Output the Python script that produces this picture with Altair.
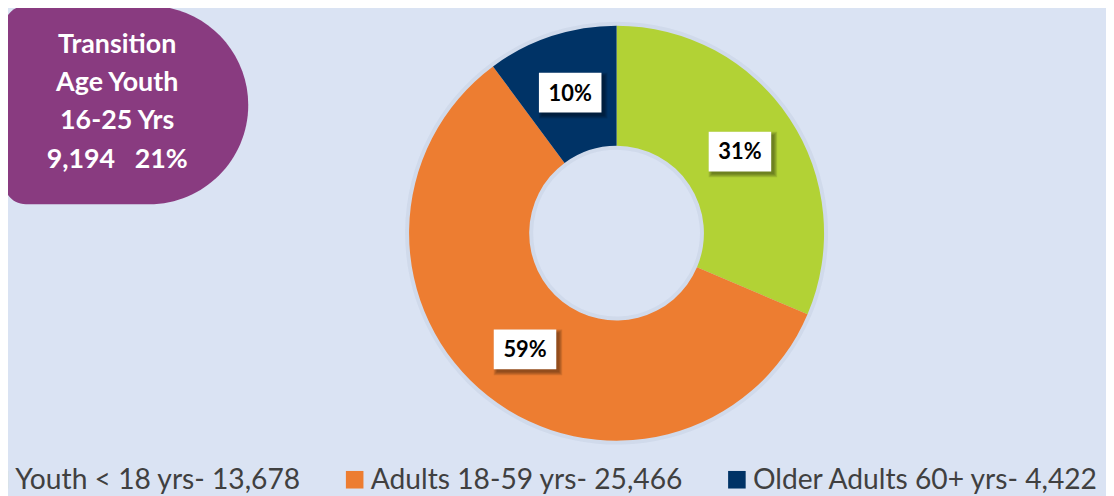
import altair as alt
import pandas as pd

# ---- data ----
categories = ["Youth < 18 yrs", "Adults 18-59 yrs", "Older Adults 60+ yrs"]
counts = [13678, 25466, 4422]
pct_labels = ["31%", "59%", "10%"]
colors = ["#B2D235", "#ED7D31", "#003366"]
tay_lines = ["Transition", "Age Youth", "16-25 Yrs", "9,194\u00a0\u00a0\u00a021%"]

legend_labels = [f"{c}- {n:,}" for c, n in zip(categories, counts)]
df = pd.DataFrame({
    "category": categories,
    "count": counts,
    "pct": pct_labels,
    "legend": legend_labels,
    "order": list(range(len(categories))),
})

# ---- layout (chart px; page has 8px margin) ----
W, H = 1106, 488
CX, CY = 613, 225
R_OUT, R_IN, R_LAB = 209, 88, 149
BOX_W, BOX_H = 63, 40
FONT = "Lato"

base = alt.Chart(df)

color = alt.Color(
    "legend:N",
    scale=alt.Scale(domain=legend_labels, range=colors),
    sort=legend_labels,
    legend=alt.Legend(
        orient="none", legendX=-23, legendY=459, direction="horizontal",
        title=None, symbolType="square", symbolSize=313, symbolStrokeWidth=0,
        symbolOpacity=1, labelFont=FONT, labelFontSize=28.4, labelColor="#404040",
        labelLimit=800, labelOffset=2, columnPadding=40, padding=0,
    ),
)

halo = base.mark_arc(outerRadius=R_OUT + 4, innerRadius=R_IN - 4,
                     color="#1F3864", opacity=0.05).encode(
    theta=alt.Theta("count:Q"),
    order=alt.Order("order:Q"),
    x=alt.value(CX),
    y=alt.value(CY),
)

arc = base.mark_arc(outerRadius=R_OUT, innerRadius=R_IN).encode(
    theta=alt.Theta("count:Q"),
    color=color,
    order=alt.Order("order:Q"),
    x=alt.value(CX),
    y=alt.value(CY),
)

lab = base.transform_joinaggregate(total="sum(count)").transform_window(
    cum="sum(count)", sort=[alt.SortField("order")]
).transform_calculate(
    mid="(datum.cum - datum.count/2) / datum.total * 2 * PI",
    lx=f"{CX} + {R_LAB} * sin(datum.mid)",
    ly=f"{CY} - {R_LAB} * cos(datum.mid)",
)

def box(dx, dy, grow):
    return lab.transform_calculate(
        bx1=f"datum.lx - {BOX_W/2} + {dx} - {grow}",
        bx2=f"datum.lx + {BOX_W/2} + {dx} + {grow}",
        by1=f"datum.ly - {BOX_H/2} + {dy} - {grow}",
        by2=f"datum.ly + {BOX_H/2} + {dy} + {grow}",
    )

shadows = [
    box(3, 3, g).mark_rect(color="#000000", opacity=0.11).encode(
        x=alt.X("bx1:Q", scale=None, axis=None), x2="bx2:Q",
        y=alt.Y("by1:Q", scale=None, axis=None), y2="by2:Q",
    )
    for g in range(4)
]

boxes = box(0, 0, 0).mark_rect(color="white").encode(
    x=alt.X("bx1:Q", scale=None, axis=None), x2="bx2:Q",
    y=alt.Y("by1:Q", scale=None, axis=None), y2="by2:Q",
)

texts = lab.mark_text(font=FONT, fontWeight="bold", fontSize=22, color="black",
                      baseline="middle", align="center", dy=1).encode(
    x=alt.X("lx:Q", scale=None, axis=None),
    y=alt.Y("ly:Q", scale=None, axis=None),
    text="pct:N",
)

tay = alt.Chart(pd.DataFrame({"txt": ["\n".join(tay_lines)]}))
tay_box = tay.mark_rect(
    color="#893B80", cornerRadiusTopLeft=22, cornerRadiusBottomLeft=22,
    cornerRadiusTopRight=100, cornerRadiusBottomRight=100,
).encode(x=alt.value(-4), x2=alt.value(242), y=alt.value(-4), y2=alt.value(196))

tay_text = tay.mark_text(
    font=FONT, fontWeight="bold", fontSize=27, color="white", align="center",
    baseline="alphabetic", lineBreak="\n", lineHeight=38.3,
).encode(x=alt.value(110), y=alt.value(44), text="txt:N")

chart = alt.layer(halo, arc, *shadows, boxes, texts, tay_box, tay_text).properties(
    width=W, height=H, padding=0, autosize="none",
).configure(background="#DAE3F3").configure_view(stroke=None)

chart.save("out.html", embed_options={"renderer": "svg", "actions": False})
